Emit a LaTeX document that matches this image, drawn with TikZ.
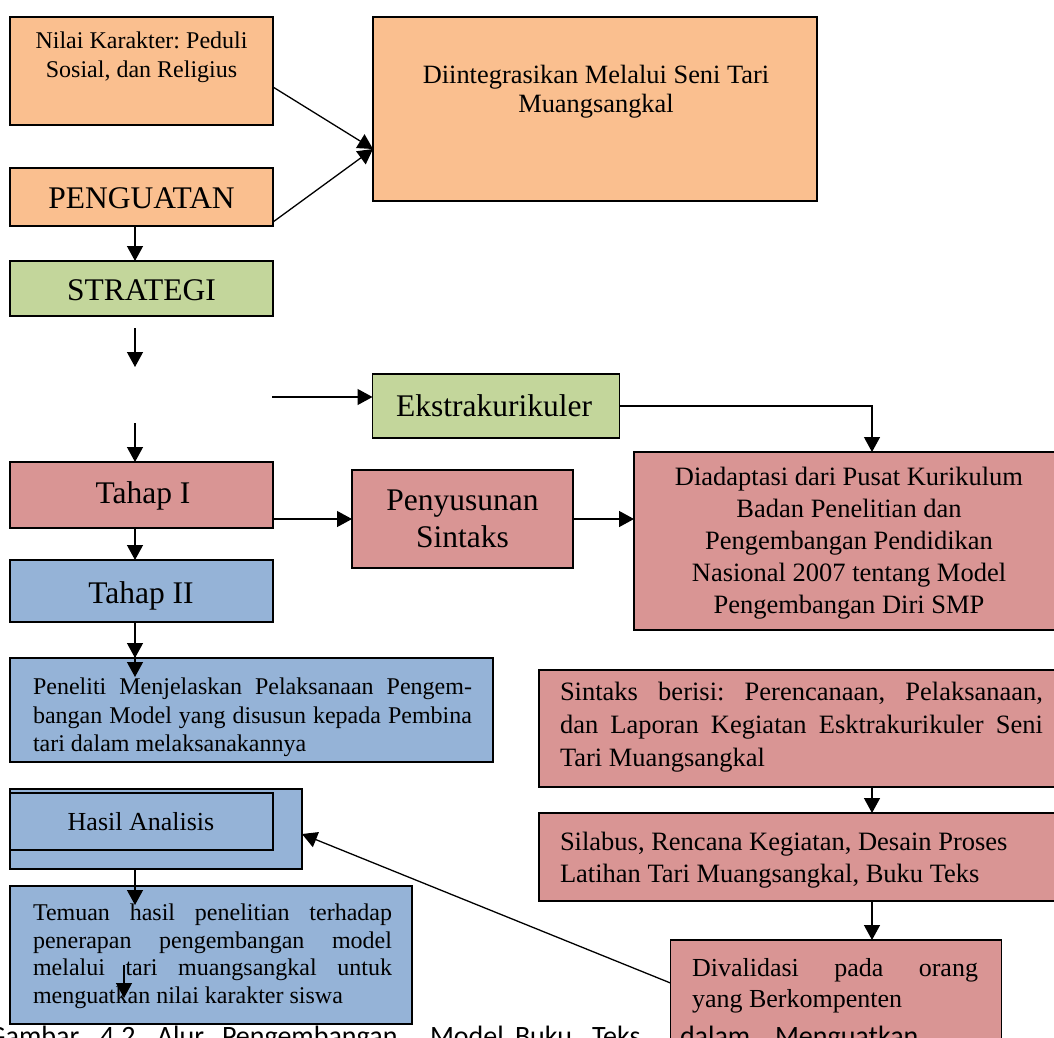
\documentclass[tikz,border=0pt]{standalone}
\usepackage{fontspec}
\setmainfont{Liberation Serif}
\newfontfamily\capfont{Carlito}
\usetikzlibrary{arrows.meta}

\definecolor{boxorange}{RGB}{250,191,143}
\definecolor{boxgreen}{RGB}{195,214,155}
\definecolor{boxpink}{RGB}{217,149,148}
\definecolor{boxblue}{RGB}{149,179,215}

\newcommand{\fsz}[2]{\fontsize{#1}{#2}\selectfont}
\frenchspacing

\begin{document}
\begin{tikzpicture}[x=1pt,y=-1pt,
  panel/.style={draw=black, line width=1.4pt, rectangle, inner sep=0pt, outer sep=0pt},
  conn/.style={line width=1.3pt, -{Triangle[length=15pt,width=16pt]}},
  lbl/.style={inner sep=0pt, outer sep=0pt},
  big/.style={lbl, anchor=base, font=\fsz{31.5}{37}},
]
\useasboundingbox (0,0) rectangle (1054,1037);
\clip (0,0) rectangle (1054,1037);

% ---- boxes ----
\node[panel, fill=boxorange, minimum width=263pt, minimum height=108pt] (nilai) at (141.5,71) {};
\node[panel, fill=boxorange, minimum width=444pt, minimum height=184pt] (diint) at (595,109) {};
\node[panel, fill=boxorange, minimum width=263pt, minimum height=58pt] (penguatan) at (141.5,197) {};
\node[panel, fill=boxgreen, minimum width=263pt, minimum height=55pt] (strategi) at (141.5,288.5) {};
\node[panel, fill=boxgreen, minimum width=247pt, minimum height=64pt] (ekstra) at (496,406) {};
\node[panel, fill=boxpink, minimum width=263pt, minimum height=66pt] (tahap1) at (141.5,495) {};
\node[panel, fill=boxpink, minimum width=221pt, minimum height=98pt] (penyusunan) at (462.5,519) {};
\node[panel, fill=boxpink, minimum width=430pt, minimum height=178pt] (diad) at (849,541) {};
\node[panel, fill=boxblue, minimum width=263pt, minimum height=62pt] (tahap2) at (141.5,591) {};
\node[panel, fill=boxblue, minimum width=483pt, minimum height=104pt] (peneliti) at (251.5,710) {};
\node[panel, fill=boxblue, minimum width=292pt, minimum height=80pt] (hasilout) at (156,829) {};
\node[panel, fill=boxblue, minimum width=263pt, minimum height=57pt] (hasilin) at (141.5,821.5) {};
\node[panel, fill=boxblue, minimum width=402pt, minimum height=138pt] (temuan) at (211,955) {};
\node[panel, fill=boxpink, minimum width=529pt, minimum height=117pt] (sintaks) at (803.5,728.5) {};
\node[panel, fill=boxpink, minimum width=529pt, minimum height=88pt] (silabus) at (803.5,857) {};
\node[panel, fill=boxpink, minimum width=331pt, minimum height=110pt] (divalidasi) at (836,995) {};

% ---- texts ----
\node[lbl, anchor=north, align=center, font=\fsz{24}{29}] (nilai-t) at (141.5,27.7)
  {\strut Nilai Karakter: Peduli\\Sosial, dan Religius};
\node[lbl, anchor=north, align=center, font=\fsz{26.4}{29}] (diint-t) at (596,62.7)
  {\strut Diintegrasikan Melalui Seni Tari\\Muangsangkal};
\node[big] (penguatan-t) at (141.5,208) {PENGUATAN};
\node[big] (strategi-t) at (141.5,300) {STRATEGI};
\node[big] (ekstra-t) at (494,416) {Ekstrakurikuler};
\node[big] (tahap1-t) at (143,503) {Tahap I};
\node[big] (tahap2-t) at (141,603) {Tahap II};
\node[lbl, anchor=north, align=center, font=\fsz{31.5}{37}] (penyusunan-t) at (462.5,484.1)
  {\strut Penyusunan\\Sintaks};
\node[lbl, anchor=north, align=center, font=\fsz{26.5}{32}] (diad-t) at (849,462.6)
  {\strut Diadaptasi dari Pusat Kurikulum\\Badan Penelitian dan\\Pengembangan Pendidikan\\Nasional 2007 tentang Model\\Pengembangan Diri SMP};
\node[lbl, anchor=north west, align=left, font=\fsz{24}{28.5}] (peneliti-t) at (33,675)
  {\strut\makebox[439pt][s]{Peneliti Menjelaskan Pelaksanaan Pengem-}\\
   \makebox[439pt][s]{bangan Model yang disusun kepada Pembina}\\
   tari dalam melaksanakannya};
\node[lbl, anchor=base, font=\fsz{26}{30}] (hasilin-t) at (141,830) {Hasil Analisis};
\node[lbl, anchor=north west, align=left, font=\fsz{24}{27.5}] (temuan-t) at (33,901.7)
  {\strut\makebox[359pt][s]{Temuan hasil penelitian terhadap}\\
   \makebox[359pt][s]{penerapan pengembangan model}\\
   \makebox[359pt][s]{melalui tari muangsangkal untuk}\\
   menguatkan nilai karakter siswa};
\node[lbl, anchor=north west, align=left, font=\fsz{26.5}{33}] (sintaks-t) at (560,676.9)
  {\strut\makebox[483pt][s]{Sintaks berisi: Perencanaan, Pelaksanaan,}\\
   \makebox[483pt][s]{dan Laporan Kegiatan Esktrakurikuler Seni}\\
   Tari Muangsangkal};
\node[lbl, anchor=north west, align=left, font=\fsz{26.5}{32}] (silabus-t) at (560,827.6)
  {\strut Silabus, Rencana Kegiatan, Desain Proses\\Latihan Tari Muangsangkal, Buku Teks};
\node[lbl, anchor=north west, align=left, font=\fsz{26}{31}] (divalidasi-t) at (692,954.3)
  {\strut\makebox[286pt][s]{Divalidasi pada orang}\\yang Berkompenten};

% ---- free ends of connectors ----
\coordinate (f1a) at (135,328);
\coordinate (f1b) at (135,367);
\coordinate (f2a) at (135,423);
\coordinate (f3a) at (272,397);
\coordinate (p1) at (135,645);
\coordinate (p2) at (135,677);
\coordinate (tin) at (135,905);
\coordinate (t1) at (124,965);
\coordinate (t2) at (124,998);

% ---- connectors ----
\draw[conn] ([yshift=-16pt]nilai.east) -- ([yshift=-40pt]diint.west);
\draw[conn] ([yshift=-25pt]penguatan.east) -- ([yshift=-40pt]diint.west);
\draw[conn] ([xshift=-6.5pt]penguatan.south) -- ([xshift=-6.5pt]strategi.north);
\draw[conn] (f1a) -- (f1b);
\draw[conn] (f2a) -- (f2a |- tahap1.north);
\draw[conn] (f3a) -- (f3a -| ekstra.west);
\draw[conn] (ekstra.east) -| ([xshift=23pt]diad.north);
\draw[conn] (penyusunan.west -| tahap1.east) -- (penyusunan.west);
\draw[conn] (penyusunan.east) -- (penyusunan.east -| diad.west);
\draw[conn] ([xshift=-6.5pt]tahap1.south) -- ([xshift=-6.5pt]tahap2.north);
\draw[conn] ([xshift=-6.5pt]tahap2.south) -- ([xshift=-6.5pt]tahap2.south |- peneliti.north);
\draw[conn] (p1) -- (p2);
\draw[conn] (hasilout.south -| tin) -- (tin);
\draw[conn] (t1) -- (t2);
\draw[conn] ([xshift=68.5pt]sintaks.south) -- ([xshift=68.5pt]silabus.north);
\draw[conn] ([xshift=68.5pt]silabus.south) -- ([xshift=68.5pt]silabus.south |- divalidasi.north);
\draw[conn] ([yshift=12pt]divalidasi.west) -- ([yshift=-5pt]hasilout.east);

% ---- caption line along the lower edge ----
\foreach \w/\x [count=\i] in {Gambar/-12, 4.2/100, Alur/157, Pengembangan/222, Model/430, Buku/515, Teks/592, dalam/680, Menguatkan/775}
  \node[lbl, anchor=base west, font=\capfont\fsz{28}{30}] (cap\i) at (\x,1045) {\w};
\end{tikzpicture}
\end{document}
